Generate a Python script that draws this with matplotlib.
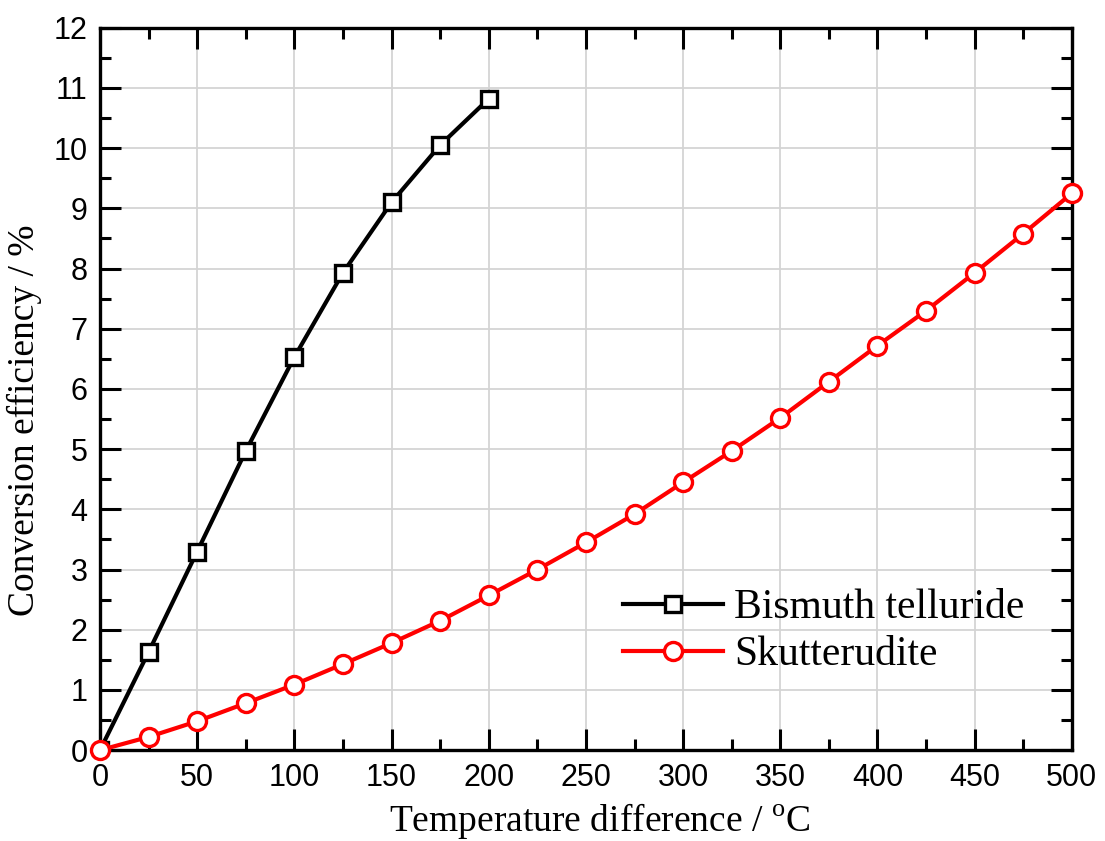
import matplotlib
matplotlib.use("Agg")
import matplotlib.pyplot as plt
from matplotlib.ticker import MultipleLocator

# Data
temp_bi = [0, 25, 50, 75, 100, 125, 150, 175, 200]
eff_bi = [0, 1.63, 3.30, 4.97, 6.53, 7.93, 9.10, 10.05, 10.82]
temp_sk = [0, 25, 50, 75, 100, 125, 150, 175, 200, 225, 250, 275, 300, 325, 350,
           375, 400, 425, 450, 475, 500]
eff_sk = [0, 0.22, 0.48, 0.78, 1.09, 1.43, 1.78, 2.15, 2.57, 3.00, 3.45, 3.92,
          4.45, 4.97, 5.52, 6.12, 6.72, 7.30, 7.93, 8.58, 9.25]
labels = ["Bismuth telluride", "Skutterudite"]

plt.rcParams['mathtext.fontset'] = 'custom'
plt.rcParams['mathtext.rm'] = 'Liberation Serif'

fig = plt.figure(figsize=(11.05, 8.41), dpi=100)
ax = fig.add_axes([0.0905, 0.108, 0.8795, 0.859])

ax.plot(temp_bi, eff_bi, color='black', lw=3.0, marker='s', ms=12,
        mfc='white', mec='black', mew=2.4, label=labels[0], zorder=3)
ax.plot(temp_sk, eff_sk, color='#ff0000', lw=3.0, marker='o', ms=13,
        mfc='white', mec='#ff0000', mew=2.4, label=labels[1], zorder=3,
        clip_on=False)

ax.set_xlim(0, 500)
ax.set_ylim(0, 12)
ax.xaxis.set_major_locator(MultipleLocator(50))
ax.xaxis.set_minor_locator(MultipleLocator(25))
ax.yaxis.set_major_locator(MultipleLocator(1))
ax.yaxis.set_minor_locator(MultipleLocator(0.5))
ax.grid(True, which='major', color='#d4d4d4', lw=1.3, zorder=0)

ax.tick_params(which='both', direction='in', top=True, right=True, width=2.2,
               labelsize=22, pad=9)
ax.tick_params(which='major', length=15)
ax.tick_params(which='minor', length=8)
for lab in ax.get_xticklabels() + ax.get_yticklabels():
    lab.set_fontfamily('Liberation Sans')
for s in ax.spines.values():
    s.set_linewidth(2.4)

ax.set_xlabel(r'Temperature difference / $^{\rm o}$C', fontsize=27,
              family='Liberation Serif', labelpad=6)
ax.set_ylabel('Conversion efficiency / %', fontsize=27,
              family='Liberation Serif', labelpad=8)
ax.xaxis.label.set_x(0.514)
ax.yaxis.label.set_y(0.457)

leg = ax.legend(loc='lower right', bbox_to_anchor=(0.951, 0.105), frameon=False,
                prop={'family': 'Liberation Serif', 'size': 30},
                handlelength=2.4, handletextpad=0.25, labelspacing=0.2,
                borderpad=0, borderaxespad=0)

fig.savefig('out.png', dpi=100)
